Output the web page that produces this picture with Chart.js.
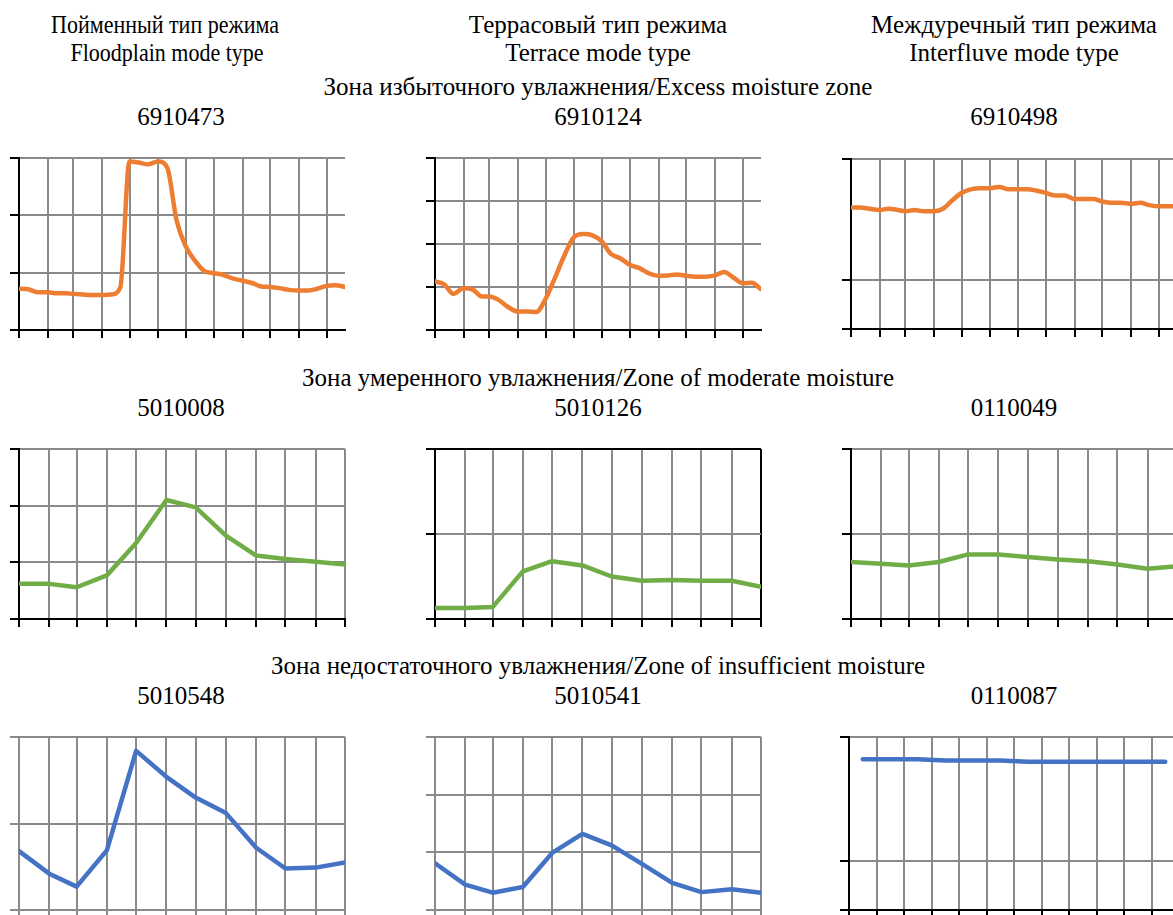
<!DOCTYPE html>
<html>
<head>
<meta charset="utf-8">
<script src="https://cdn.jsdelivr.net/npm/chart.js@4"></script>
<style>
body { margin: 0; background: #fff; }
#page { position: relative; width: 1173px; height: 915px; overflow: hidden; background: #fff;
        font-family: "Liberation Serif", "Times New Roman", serif; color: #000; }
.t { position: absolute; font-size: 25px; line-height: 25px; white-space: nowrap; transform: translateX(-50%); }
.t.narrow { transform: translateX(-50%) scaleX(0.88); }
canvas { position: absolute; }
</style>
</head>
<body>
<div id="page">
  <div class="t narrow" style="left:165px;top:12px">Пойменный тип режима</div>
  <div class="t narrow" style="left:167px;top:40px">Floodplain mode type</div>
  <div class="t" style="left:598px;top:12px">Террасовый тип режима</div>
  <div class="t" style="left:598px;top:40px">Terrace mode type</div>
  <div class="t" style="left:1014px;top:12px">Междуречный тип режима</div>
  <div class="t" style="left:1014px;top:40px">Interfluve mode type</div>

  <div class="t" style="left:598px;top:74px">Зона избыточного увлажнения/Excess moisture zone</div>
  <div class="t" style="left:181px;top:104px">6910473</div>
  <div class="t" style="left:598px;top:104px">6910124</div>
  <div class="t" style="left:1014px;top:104px">6910498</div>

  <div class="t" style="left:598px;top:365px">Зона умеренного увлажнения/Zone of moderate moisture</div>
  <div class="t" style="left:181px;top:395px">5010008</div>
  <div class="t" style="left:598px;top:395px">5010126</div>
  <div class="t" style="left:1014px;top:395px">0110049</div>

  <div class="t" style="left:598px;top:653px">Зона недостаточного увлажнения/Zone of insufficient moisture</div>
  <div class="t" style="left:181px;top:683px">5010548</div>
  <div class="t" style="left:598px;top:683px">5010541</div>
  <div class="t" style="left:1014px;top:683px">0110087</div>
</div>
<script>
// day of year of each month start, and of each dekad (1st, 11th, 21st)
const monthStarts = [0, 31, 59, 90, 120, 151, 181, 212, 243, 273, 304, 334];
const dekadDays = [0, 10, 20, 31, 41, 51, 59, 69, 79, 90, 100, 110, 120, 130, 140, 151, 161, 171,
                   181, 191, 201, 212, 222, 232, 243, 253, 263, 273, 283, 293, 304, 314, 324, 334, 344, 354];
const months = ['I', 'II', 'III', 'IV', 'V', 'VI', 'VII', 'VIII', 'IX', 'X', 'XI', 'XII'];

// excess moisture zone, dekadal
const s6910473 = [0.72, 0.71, 0.66, 0.66, 0.64, 0.64, 0.63, 0.62, 0.61, 0.61, 0.62, 0.74,
                  2.94, 2.92, 2.89, 2.94, 2.83, 1.92, 1.46, 1.21, 1.03, 0.99, 0.96, 0.90,
                  0.86, 0.82, 0.76, 0.75, 0.73, 0.70, 0.69, 0.69, 0.72, 0.77, 0.78, 0.75];
const s6910124 = [1.13, 1.06, 0.84, 0.97, 0.94, 0.78, 0.78, 0.70, 0.54, 0.43, 0.43, 0.42,
                  0.72, 1.20, 1.71, 2.16, 2.23, 2.20, 2.06, 1.77, 1.67, 1.51, 1.44, 1.32,
                  1.26, 1.27, 1.29, 1.26, 1.24, 1.24, 1.27, 1.35, 1.22, 1.09, 1.10, 0.95];
const s6910498 = [1.60, 1.60, 1.59, 1.58, 1.59, 1.58, 1.57, 1.58, 1.57, 1.57, 1.59, 1.66,
                  1.72, 1.75, 1.76, 1.76, 1.77, 1.75, 1.75, 1.75, 1.74, 1.72, 1.70, 1.70,
                  1.67, 1.67, 1.67, 1.65, 1.64, 1.64, 1.63, 1.64, 1.62, 1.61, 1.61, 1.61];

// moderate moisture zone, monthly
const s5010008 = [0.62, 0.62, 0.56, 0.77, 1.34, 2.10, 1.97, 1.47, 1.12, 1.06, 1.01, 0.96];
const s5010126 = [0.13, 0.13, 0.14, 0.56, 0.68, 0.63, 0.50, 0.45, 0.46, 0.45, 0.45, 0.38];
const s0110049 = [0.67, 0.65, 0.63, 0.67, 0.76, 0.76, 0.73, 0.70, 0.68, 0.64, 0.59, 0.62];

// insufficient moisture zone, monthly
const s5010548 = [0.68, 0.42, 0.27, 0.69, 1.84, 1.54, 1.30, 1.12, 0.72, 0.48, 0.49, 0.55];
const s5010541 = [0.81, 0.44, 0.30, 0.40, 0.99, 1.32, 1.12, 0.80, 0.47, 0.31, 0.36, 0.30];
const s0110087 = [1.82, 1.82, 1.82, 1.81, 1.81, 1.81, 1.80, 1.80, 1.80, 1.80, 1.80, 1.80];

const ORANGE = '#ed7d31';
const GREEN = '#70ad47';
const BLUE = '#4472c4';
const GRID = '#8a8a8a';

function pts(days, vals){
    return vals.map((v, i) => ({x: days[i], y: v}));
}

function makeChart(box, opt){
    const page = document.getElementById('page');
    const cv = document.createElement('canvas');
    const w = box.R - box.L + 18;
    const h = box.B - box.T + 16;
    cv.width = w; cv.height = h;
    cv.style.left = (box.L - 12) + 'px';
    cv.style.top = (box.T - 6) + 'px';
    cv.style.width = w + 'px';
    cv.style.height = h + 'px';
    page.appendChild(cv);

    const axis = opt.axisColor || '#000';
    const box4 = !!opt.boxed;
    const yTicks = opt.yTicks;
    const yMin = yTicks[0], yMax = yTicks[yTicks.length - 1];

    let xScale;
    if(opt.category){
        xScale = {
            type: 'category', labels: opt.labels, offset: true,
            grid: {offset: true, color: GRID, lineWidth: 2, tickLength: 8, tickColor: axis},
        };
    } else {
        xScale = {
            type: 'linear', min: opt.xMin, max: opt.xMax,
            afterBuildTicks: s => { s.ticks = opt.xTicks.map(v => ({value: v})); },
            grid: {
                lineWidth: 2, tickLength: 8, tickColor: axis,
                color: c => (c.tick && box4 && c.tick.value === opt.xMax) ? axis : GRID
            },
        };
    }
    xScale.ticks = {display: false};
    xScale.border = {color: axis, width: 2};
    xScale.afterFit = s => { s.height = 10; };

    return new Chart(cv.getContext('2d'), {
        type: 'line',
        data: {
            labels: opt.labels,
            datasets: [{
                data: opt.data,
                borderColor: opt.color,
                borderWidth: 4.5,
                pointRadius: 0,
                fill: false,
                cubicInterpolationMode: opt.smooth ? 'monotone' : 'default',
                tension: 0,
                borderCapStyle: 'round',
                borderJoinStyle: 'round'
            }]
        },
        options: {
            responsive: false,
            animation: false,
            layout: {padding: {top: 6, right: 6, left: 0, bottom: 0}},
            plugins: {legend: {display: false}, tooltip: {enabled: false}},
            scales: {
                x: xScale,
                y: {
                    type: 'linear', min: yMin, max: yMax,
                    afterBuildTicks: s => { s.ticks = yTicks.map(v => ({value: v})); },
                    afterFit: s => { s.width = 12; },
                    ticks: {display: false},
                    border: {color: axis, width: 2},
                    grid: {
                        lineWidth: 2, tickLength: 9, tickColor: axis,
                        color: c => (c.tick && box4 && c.tick.value === yMax) ? axis : GRID
                    }
                }
            }
        }
    });
}

// row 1: excess moisture, dekadal data
makeChart({L: 19, T: 158, R: 345, B: 330},
    {data: pts(dekadDays, s6910473), color: ORANGE, smooth: true,
     xMin: 0, xMax: 354, xTicks: monthStarts, yTicks: [0, 1, 2, 3]});
makeChart({L: 435, T: 158, R: 761, B: 330},
    {data: pts(dekadDays, s6910124), color: ORANGE, smooth: true,
     xMin: 0, xMax: 354, xTicks: monthStarts, yTicks: [0, 1, 2, 3, 4]});
makeChart({L: 851, T: 159, R: 1177, B: 329},
    {data: pts(dekadDays, s6910498), color: ORANGE, smooth: true,
     xMin: 0, xMax: 354, xTicks: monthStarts, yTicks: [0.6, 1, 2]});

// row 2: moderate moisture, monthly
makeChart({L: 19, T: 449, R: 345, B: 619},
    {data: pts(monthStarts, s5010008), color: GREEN,
     xMin: 0, xMax: 334, xTicks: monthStarts, yTicks: [0, 1, 2, 3]});
makeChart({L: 435, T: 449, R: 761, B: 619},
    {data: pts(monthStarts, s5010126), color: GREEN, boxed: true,
     xMin: 0, xMax: 334, xTicks: monthStarts, yTicks: [0, 1, 2]});
makeChart({L: 851, T: 449, R: 1177, B: 619},
    {data: pts(monthStarts, s0110049), color: GREEN,
     xMin: 0, xMax: 334, xTicks: monthStarts, yTicks: [0, 1, 2]});

// row 3: insufficient moisture, monthly
makeChart({L: 19, T: 737, R: 345, B: 910},
    {data: pts(monthStarts, s5010548), color: BLUE, axisColor: GRID,
     xMin: 0, xMax: 334, xTicks: monthStarts, yTicks: [0, 1, 2]});
makeChart({L: 435, T: 737, R: 761, B: 910},
    {data: pts(monthStarts, s5010541), color: BLUE, axisColor: GRID,
     xMin: 0, xMax: 334, xTicks: monthStarts, yTicks: [0, 1, 2, 3]});
makeChart({L: 849, T: 737, R: 1179, B: 910},
    {data: s0110087, labels: months, category: true, color: BLUE, yTicks: [0.6, 1, 2]});
</script>
</body>
</html>
